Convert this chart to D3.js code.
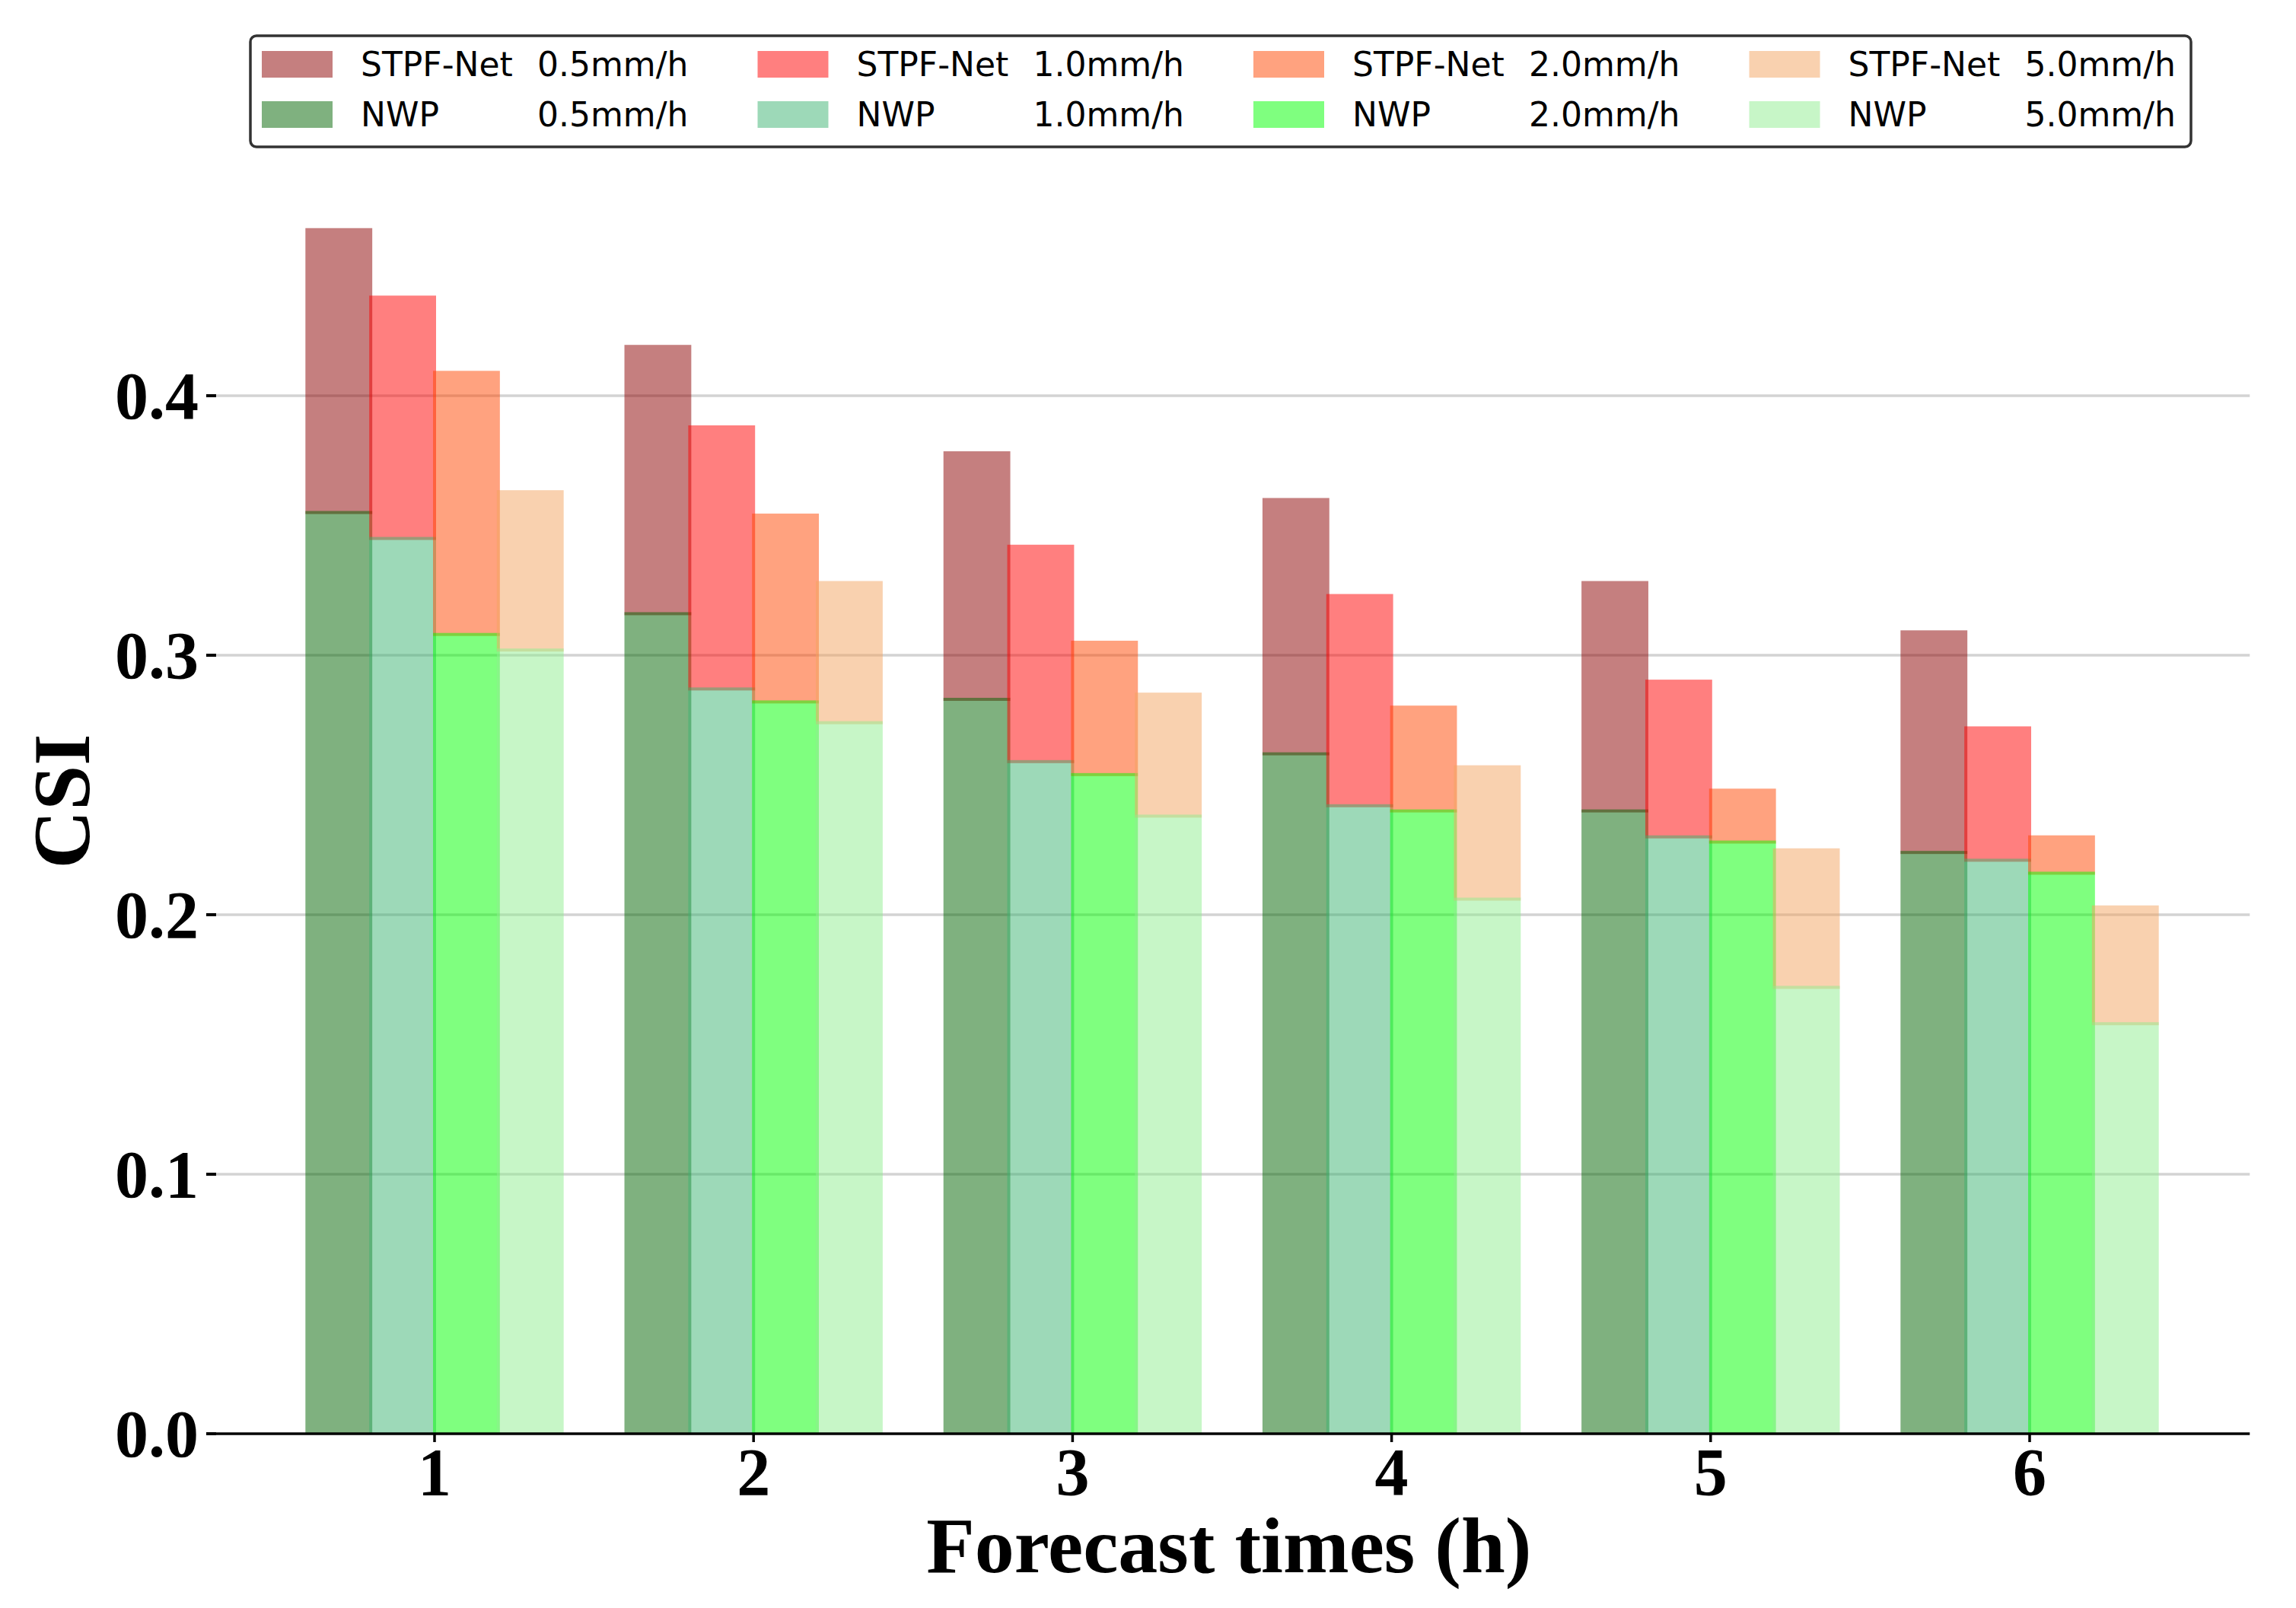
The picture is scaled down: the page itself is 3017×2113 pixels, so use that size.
<!DOCTYPE html>
<html>
  <head>
    <title>CSI vs forecast time</title>
    <meta charset="utf-8">
    <script type="text/javascript" src="https://cdn.jsdelivr.net/npm/d3@7/dist/d3.min.js"></script>
    <style>
      body { margin: 0; background: #fff; }
      svg { display: block; }
    </style>
  </head>
  <body>
    <div id="figure"></div>
    <script type="text/javascript">
    // values
    var times = [1, 2, 3, 4, 5, 6];
    var thresholds = ['0.5mm/h', '1.0mm/h', '2.0mm/h', '5.0mm/h'];
    var stpf05 = [0.464, 0.419, 0.378, 0.360, 0.328, 0.309];
    var stpf10 = [0.438, 0.388, 0.342, 0.323, 0.290, 0.272];
    var stpf20 = [0.409, 0.354, 0.305, 0.280, 0.248, 0.230];
    var stpf50 = [0.363, 0.328, 0.285, 0.257, 0.225, 0.203];
    var nwp05 = [0.355, 0.316, 0.283, 0.262, 0.240, 0.224];
    var nwp10 = [0.345, 0.287, 0.259, 0.242, 0.230, 0.221];
    var nwp20 = [0.308, 0.282, 0.254, 0.240, 0.228, 0.216];
    var nwp50 = [0.302, 0.274, 0.238, 0.206, 0.172, 0.158];
    var yTicks = [0.0, 0.1, 0.2, 0.3, 0.4];

    (function(){
        var W = 3017;
        var H = 2113;
        var PAD = 2;
        var BW = 0.2;
        var SERIF = '"Liberation Serif", "Times New Roman", serif';
        var SANS = '"DejaVu Sans", sans-serif';

        var stpf = [stpf05, stpf10, stpf20, stpf50];
        var nwp = [nwp05, nwp10, nwp20, nwp50];
        var stpfColors = ['darkred', 'red', 'orangered', 'sandybrown'];
        var nwpColors = ['darkgreen', 'mediumseagreen', 'lime', 'lightgreen'];

        var x = d3.scaleLinear().domain([1, 6]).range([571, 2667]);
        var y = d3.scaleLinear().domain([0, 0.4]).range([1884, 520]);
        var xMin = 0.29, xMax = 6.69;

        var svg = d3.select('#figure').append('svg')
                    .attr('width', W)
                    .attr('height', H);
        svg.append('rect').attr('width', W).attr('height', H).attr('fill', '#fff');

        // grid
        svg.append('g').selectAll('line')
           .data(yTicks.slice(1))
           .enter()
           .append('line')
           .attr('x1', x(xMin)).attr('x2', x(xMax))
           .attr('y1', function(d){ return y(d); })
           .attr('y2', function(d){ return y(d); })
           .attr('stroke', '#d3d3d3')
           .attr('stroke-width', 3.5);

        // bars, STPF part sits on top of NWP part
        var bars = svg.append('g');
        var bw = x(1 + BW) - x(1);
        for(var k = 0; k < 4; k++){
            var off = (k - 1.5) * BW;
            var rows = times.map(function(t, i){
                return {t: t, s: stpf[k][i], n: nwp[k][i]};
            });
            bars.append('g').selectAll('rect')
                .data(rows)
                .enter()
                .append('rect')
                .attr('x', function(d){ return x(d.t + off) - bw / 2 - PAD; })
                .attr('width', bw + 2 * PAD)
                .attr('y', function(d){ return y(d.s) - PAD; })
                .attr('height', function(d){ return y(d.n) - y(d.s) + 2 * PAD; })
                .attr('fill', stpfColors[k])
                .attr('opacity', 0.5);
            bars.append('g').selectAll('rect')
                .data(rows)
                .enter()
                .append('rect')
                .attr('x', function(d){ return x(d.t + off) - bw / 2 - PAD; })
                .attr('width', bw + 2 * PAD)
                .attr('y', function(d){ return y(d.n) - PAD; })
                .attr('height', function(d){ return y(0) - y(d.n) + PAD; })
                .attr('fill', nwpColors[k])
                .attr('opacity', 0.5);
        }

        // x axis
        var xAxis = svg.append('g');
        xAxis.append('line')
             .attr('x1', x(xMin)).attr('x2', x(xMax))
             .attr('y1', y(0)).attr('y2', y(0))
             .attr('stroke', '#000').attr('stroke-width', 3.5);
        xAxis.selectAll('.xt')
             .data(times)
             .enter()
             .append('line')
             .attr('x1', function(d){ return x(d); })
             .attr('x2', function(d){ return x(d); })
             .attr('y1', y(0)).attr('y2', y(0) + 11)
             .attr('stroke', '#000').attr('stroke-width', 3.5);
        xAxis.selectAll('text')
             .data(times)
             .enter()
             .append('text')
             .attr('x', function(d){ return x(d); })
             .attr('y', 1964)
             .attr('text-anchor', 'middle')
             .style('font-family', SERIF)
             .style('font-weight', 'bold')
             .style('font-size', '88px')
             .text(function(d){ return d; });

        // y ticks (no spine)
        var yAxis = svg.append('g');
        yAxis.selectAll('line')
             .data(yTicks)
             .enter()
             .append('line')
             .attr('x1', 271).attr('x2', 284)
             .attr('y1', function(d){ return y(d); })
             .attr('y2', function(d){ return y(d); })
             .attr('stroke', '#000').attr('stroke-width', 4);
        yAxis.selectAll('text')
             .data(yTicks)
             .enter()
             .append('text')
             .attr('x', 261)
             .attr('y', function(d){ return y(d); })
             .attr('dy', '0.34em')
             .attr('text-anchor', 'end')
             .style('font-family', SERIF)
             .style('font-weight', 'bold')
             .style('font-size', '88px')
             .text(function(d){ return d3.format('.1f')(d); });

        // axis titles
        svg.append('text')
           .attr('x', (x(xMin) + x(xMax)) / 2)
           .attr('y', 2066)
           .attr('text-anchor', 'middle')
           .style('font-family', SERIF)
           .style('font-weight', 'bold')
           .style('font-size', '104px')
           .text('Forecast times (h)');
        svg.append('text')
           .attr('transform', 'translate(117,1053) rotate(-90)')
           .attr('text-anchor', 'middle')
           .style('font-family', SERIF)
           .style('font-weight', 'bold')
           .style('font-size', '106px')
           .text('CSI');

        // legend, 4 columns x 2 rows
        var leg = svg.append('g');
        leg.append('rect')
           .attr('x', 329).attr('y', 47)
           .attr('width', 2550).attr('height', 146)
           .attr('rx', 8).attr('ry', 8)
           .attr('fill', '#fff')
           .attr('stroke', '#333')
           .attr('stroke-width', 3.5);
        var legRows = [
            {name: 'STPF-Net', colors: stpfColors, top: 67, base: 100},
            {name: 'NWP', colors: nwpColors, top: 133, base: 166}
        ];
        legRows.forEach(function(r){
            thresholds.forEach(function(th, k){
                var lx = 344 + k * 651.5;
                leg.append('rect')
                   .attr('x', lx).attr('y', r.top)
                   .attr('width', 93).attr('height', 35)
                   .attr('fill', r.colors[k])
                   .attr('opacity', 0.5);
                leg.append('text')
                   .attr('x', lx + 130).attr('y', r.base)
                   .style('font-family', SANS)
                   .style('font-size', '44px')
                   .text(r.name);
                leg.append('text')
                   .attr('x', lx + 362).attr('y', r.base)
                   .style('font-family', SANS)
                   .style('font-size', '44px')
                   .text(th);
            });
        });
    })();
    </script>
  </body>
</html>
